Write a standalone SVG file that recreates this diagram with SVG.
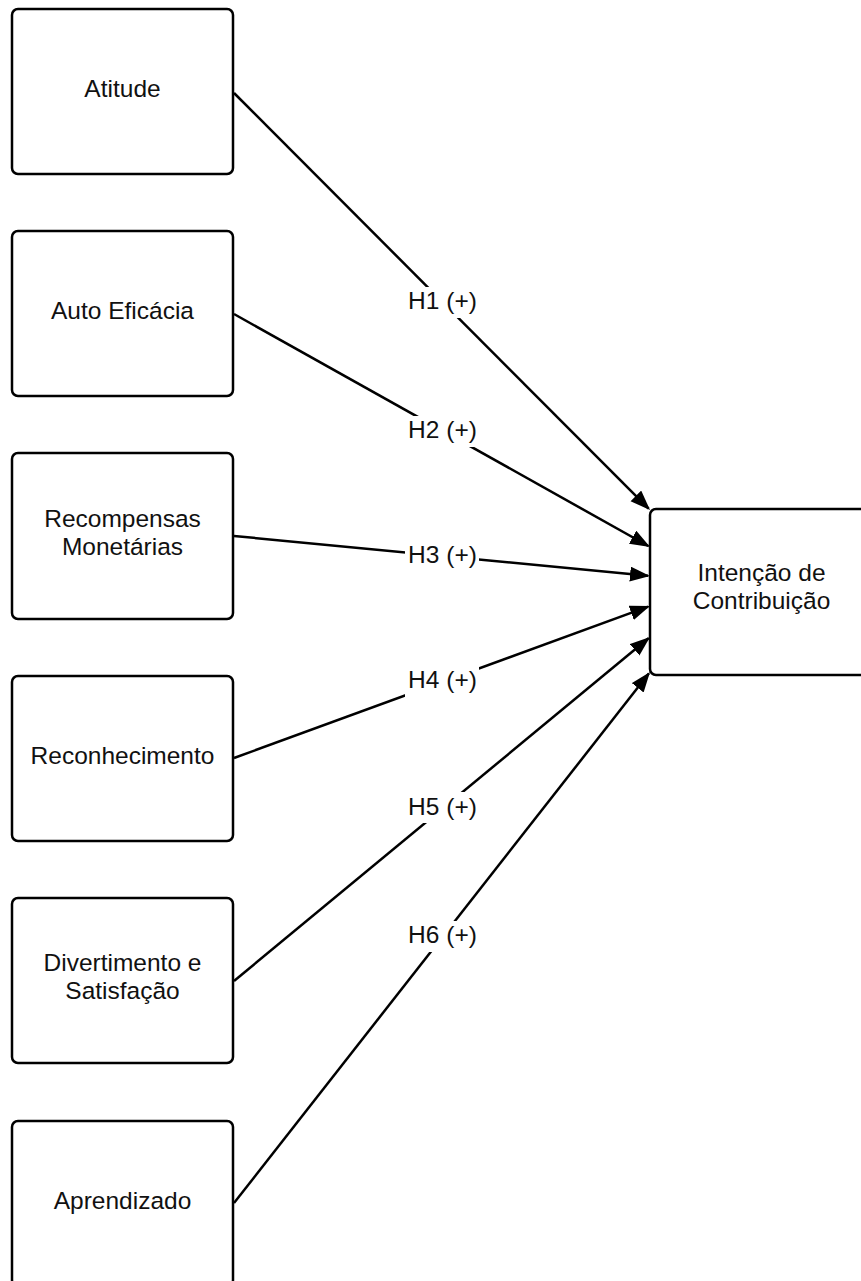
<svg xmlns="http://www.w3.org/2000/svg" width="861" height="1281" viewBox="0 0 861 1281">
<style>
.box{fill:#fff;stroke:#000;stroke-width:2.5}
.t{font-family:"Liberation Sans",Arial,sans-serif;font-size:24.5px;fill:#111;text-anchor:middle}
.c{stroke:#000;stroke-width:2.5;fill:none;marker-end:url(#ah)}
.lb{fill:#fff}
</style>
<defs>
<marker id="ah" markerUnits="userSpaceOnUse" markerWidth="22" markerHeight="16" refX="18" refY="7.5" orient="auto">
<path d="M0,0 L20,7.5 L0,15 Z" fill="#000"/>
</marker>
</defs>
<rect width="861" height="1281" fill="#fff"/>
<g id="connectors">
<line class="c" x1="234" y1="93" x2="648.6" y2="508.6"/>
<line class="c" x1="234" y1="314" x2="648.3" y2="546"/>
<line class="c" x1="234" y1="536" x2="648" y2="575.8"/>
<line class="c" x1="234" y1="758" x2="648.1" y2="606.7"/>
<line class="c" x1="234" y1="981" x2="648.5" y2="638.3"/>
<line class="c" x1="234" y1="1203" x2="648.8" y2="673.6"/>
<rect class="lb" x="405" y="287" width="74" height="31"/>
<text class="t" x="442.5" y="309">H1 (+)</text>
<rect class="lb" x="405" y="416" width="74" height="31"/>
<text class="t" x="442.5" y="438">H2 (+)</text>
<rect class="lb" x="405" y="541" width="74" height="31"/>
<text class="t" x="442.5" y="563">H3 (+)</text>
<rect class="lb" x="405" y="666" width="74" height="31"/>
<text class="t" x="442.5" y="688">H4 (+)</text>
<rect class="lb" x="405" y="792" width="74" height="31"/>
<text class="t" x="442.5" y="815">H5 (+)</text>
<rect class="lb" x="405" y="921" width="74" height="31"/>
<text class="t" x="442.5" y="943">H6 (+)</text>
</g>
<g id="atitude">
<rect class="box" x="12" y="9" width="221" height="165" rx="6"/>
<text class="t" x="122.5" y="97">Atitude</text>
</g>
<g id="auto-eficacia">
<rect class="box" x="12" y="231" width="221" height="165" rx="6"/>
<text class="t" x="122.5" y="319">Auto Eficácia</text>
</g>
<g id="recompensas">
<rect class="box" x="12" y="453" width="221" height="166" rx="6"/>
<text class="t" x="122.5" y="527">Recompensas</text>
<text class="t" x="122.5" y="555">Monetárias</text>
</g>
<g id="reconhecimento">
<rect class="box" x="12" y="676" width="221" height="165" rx="6"/>
<text class="t" x="122.5" y="764">Reconhecimento</text>
</g>
<g id="divertimento">
<rect class="box" x="12" y="898" width="221" height="165" rx="6"/>
<text class="t" x="122.5" y="971">Divertimento e</text>
<text class="t" x="122.5" y="999">Satisfação</text>
</g>
<g id="aprendizado">
<rect class="box" x="12" y="1121" width="221" height="165" rx="6"/>
<text class="t" x="122.5" y="1209">Aprendizado</text>
</g>
<g id="intencao">
<rect class="box" x="650" y="509" width="222" height="166" rx="6"/>
<text class="t" x="761.5" y="581">Intenção de</text>
<text class="t" x="761.5" y="609">Contribuição</text>
</g>
</svg>
